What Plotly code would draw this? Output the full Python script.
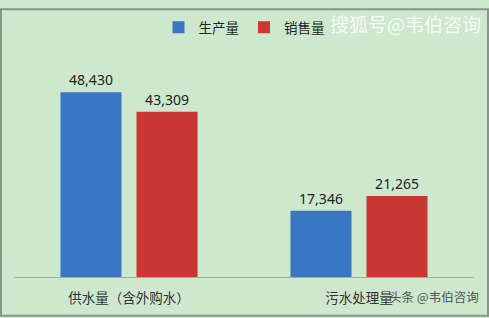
import plotly.graph_objects as go

categories = ["供水量（含外购水）", "污水处理量"]
series_names = ["生产量", "销售量"]
production = [48430, 17346]
sales = [43309, 21265]
colors = ["#3a77c2", "#c93735"]

W, H = 489, 318
L, R, T, B = 14, 15, 40, 41
PW, PH = W - L - R, H - T - B

def px(x):
    return (x - L) / PW

def py(y):
    return (H - B - y) / PH

fig = go.Figure()
for name, vals, c in zip(series_names, [production, sales], colors):
    fig.add_trace(go.Bar(
        x=categories, y=vals, name=name,
        marker=dict(color=c, line=dict(width=0)),
        text=[f"{v:,}" for v in vals], textposition="outside",
        textfont=dict(family="Noto Sans, Liberation Sans", size=14, color="#222222"),
        cliponaxis=False,
    ))

fig.update_layout(
    width=W, height=H,
    margin=dict(l=L, r=R, t=T, b=B),
    paper_bgcolor="#cde8cd", plot_bgcolor="#cde8cd",
    barmode="group", bargap=0.339, bargroupgap=0.197,
    font=dict(family="Noto Sans CJK SC", size=13, color="#333333"),
    legend=dict(orientation="h", x=0.5, xanchor="center", y=py(20), yanchor="middle",
                font=dict(family="Noto Sans CJK SC", size=13.5, color="#222222"),
                bgcolor="rgba(0,0,0,0)", itemwidth=30, traceorder="normal"),
    xaxis=dict(showline=True, linecolor="#a3ada3", linewidth=1,
               ticks="outside", ticklen=9, tickcolor="rgba(0,0,0,0)",
               tickfont=dict(family="Noto Sans CJK SC", size=13.5, color="#333333"),
               showgrid=False, zeroline=False),
    yaxis=dict(range=[0, 60300], visible=False, showgrid=False, zeroline=False),
    showlegend=True,
)

fig.add_shape(type="rect", xref="paper", yref="paper",
              x0=px(1), x1=px(488), y0=py(317), y1=py(1),
              line=dict(color="#8a948a", width=2), fillcolor="rgba(0,0,0,0)", layer="above")

fig.add_annotation(text="搜狐号@韦伯咨询", xref="paper", yref="paper",
                   x=px(483), y=py(16), xanchor="right", yanchor="middle", showarrow=False,
                   font=dict(family="Noto Sans CJK SC", size=19, color="rgba(255,255,255,0.85)"))
fig.add_annotation(text="头条 @韦伯咨询", xref="paper", yref="paper",
                   x=px(481), y=py(297), xanchor="right", yanchor="middle", showarrow=False,
                   font=dict(family="Noto Sans CJK SC", size=12.5, color="#555555"))

fig.write_html("out.html")
